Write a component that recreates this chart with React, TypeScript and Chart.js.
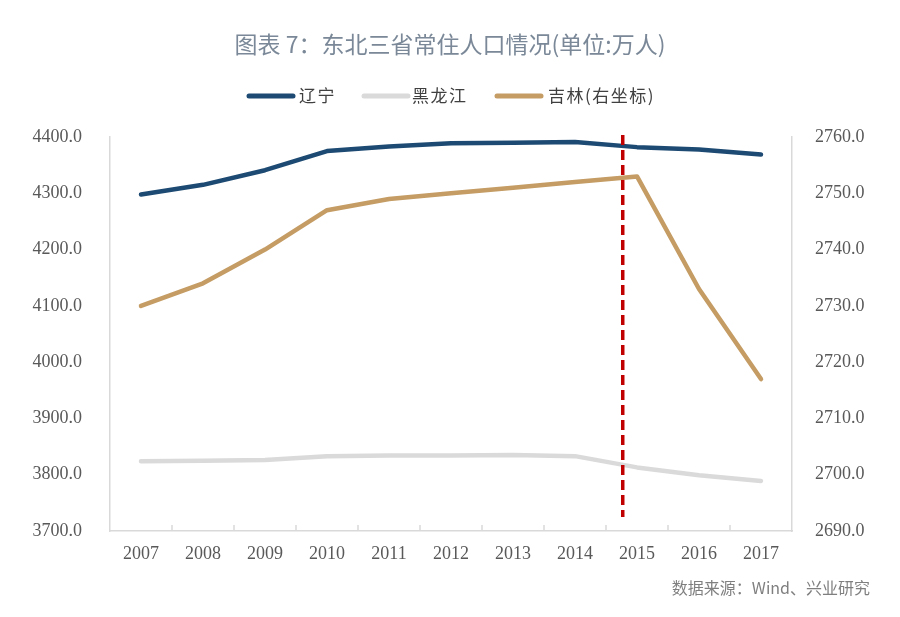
import React, { useEffect, useRef } from 'react';
import { Chart, registerables } from 'chart.js';

Chart.register(...registerables);

const years = ['2007', '2008', '2009', '2010', '2011', '2012', '2013', '2014', '2015', '2016', '2017'];
const liaoning = [4298, 4315, 4341, 4375, 4383, 4389, 4390, 4391, 4382, 4378, 4369];
const heilongjiang = [3824, 3825, 3826, 3833, 3834, 3834, 3835, 3833, 3813, 3799, 3789];
const jilin = [2730, 2734, 2740, 2747, 2749, 2750, 2751, 2752, 2753, 2733, 2717];
const seriesNames = ['辽宁', '黑龙江', '吉林(右坐标)'];
const seriesColors = ['#1d4a72', '#dadada', '#c49c64'];
const titleText = '图表 7：东北三省常住人口情况(单位:万人)';
const sourceText = '数据来源：Wind、兴业研究';
const markerIndex = 7.77; // dashed marker between 2014 and 2015
const markerBottomValue = 3725;

const CJK = '"Noto Sans CJK SC", "Noto Sans", sans-serif';
const SERIF = '"Liberation Serif", "Times New Roman", serif';

const decorPlugin = {
  id: 'decor',
  beforeDraw(chart: any) {
    const ctx = chart.ctx;
    ctx.save();
    ctx.fillStyle = '#ffffff';
    ctx.fillRect(0, 0, chart.width, chart.height);
    // title
    ctx.font = `23px ${CJK}`;
    ctx.fillStyle = '#7a8898';
    ctx.textAlign = 'center';
    ctx.textBaseline = 'middle';
    ctx.fillText(titleText, 450, 44);
    // legend
    const sampleX = [247, 362, 495];
    const textX = [299, 412, 548];
    ctx.lineCap = 'round';
    ctx.lineWidth = 5;
    ctx.font = `17px ${CJK}`;
    ctx.textAlign = 'left';
    try { (ctx as any).letterSpacing = '1.5px'; } catch (e) {}
    for (let i = 0; i < 3; i++) {
      ctx.strokeStyle = seriesColors[i];
      ctx.beginPath();
      ctx.moveTo(sampleX[i] + 2, 96);
      ctx.lineTo(sampleX[i] + 46, 96);
      ctx.stroke();
      ctx.fillStyle = '#404040';
      ctx.fillText(seriesNames[i], textX[i], 96);
    }
    try { (ctx as any).letterSpacing = '0px'; } catch (e) {}
    // source
    ctx.font = `16px ${CJK}`;
    ctx.fillStyle = '#7f7f7f';
    ctx.textAlign = 'right';
    ctx.fillText(sourceText, 870, 588);
    ctx.restore();
  },
  afterDraw(chart: any) {
    const ctx = chart.ctx;
    const x = chart.scales.x;
    const area = chart.chartArea;
    ctx.save();
    // inward tick marks at category boundaries
    ctx.strokeStyle = '#d9d9d9';
    ctx.lineWidth = 1.5;
    for (let i = 1; i < years.length; i++) {
      const bx = (x.getPixelForValue(i - 1) + x.getPixelForValue(i)) / 2;
      ctx.beginPath();
      ctx.moveTo(bx, area.bottom - 6);
      ctx.lineTo(bx, area.bottom);
      ctx.stroke();
    }
    ctx.restore();
  },
  afterDatasetsDraw(chart: any) {
    const ctx = chart.ctx;
    const x = chart.scales.x;
    const y = chart.scales.y;
    const area = chart.chartArea;
    const i0 = Math.floor(markerIndex);
    const f = markerIndex - i0;
    const mx = x.getPixelForValue(i0) + f * (x.getPixelForValue(i0 + 1) - x.getPixelForValue(i0));
    ctx.save();
    ctx.strokeStyle = '#c00000';
    ctx.lineWidth = 3.5;
    ctx.setLineDash([10, 5]);
    ctx.beginPath();
    ctx.moveTo(mx, area.top - 2);
    ctx.lineTo(mx, y.getPixelForValue(markerBottomValue));
    ctx.stroke();
    ctx.restore();
  },
};

export default function App() {
  const canvasRef = useRef<HTMLCanvasElement | null>(null);

  useEffect(() => {
    if (!canvasRef.current) return;
    const lineDs = (label: string, data: number[], color: string, axis: string, order: number) => ({
      label,
      data,
      yAxisID: axis,
      borderColor: color,
      backgroundColor: color,
      borderWidth: 4.5,
      pointRadius: 0,
      pointHoverRadius: 0,
      tension: 0,
      borderCapStyle: 'round' as const,
      borderJoinStyle: 'round' as const,
      fill: false,
      order,
    });
    const chart = new Chart(canvasRef.current, {
      type: 'line',
      data: {
        labels: years,
        datasets: [
          lineDs(seriesNames[0], liaoning, seriesColors[0], 'y', 1),
          lineDs(seriesNames[1], heilongjiang, seriesColors[1], 'y', 3),
          lineDs(seriesNames[2], jilin, seriesColors[2], 'y1', 2),
        ],
      },
      options: {
        responsive: false,
        animation: false,
        devicePixelRatio: 1,
        layout: { padding: { top: 137, bottom: 46, left: 0, right: 0 } },
        plugins: {
          legend: { display: false },
          title: { display: false },
          tooltip: { enabled: false },
        },
        scales: {
          x: {
            type: 'category',
            offset: true,
            grid: { display: false },
            border: { display: true, color: '#d9d9d9', width: 1.5 },
            ticks: { color: '#595959', font: { family: SERIF, size: 18 }, padding: 4, maxRotation: 0 },
            afterFit: (s: any) => { s.height = 40; },
          },
          y: {
            position: 'left',
            min: 3700,
            max: 4400,
            grid: { display: false },
            border: { display: true, color: '#d9d9d9', width: 1.5 },
            ticks: {
              stepSize: 100,
              color: '#595959',
              font: { family: SERIF, size: 18 },
              padding: 20,
              callback: (v: any) => Number(v).toFixed(1),
            },
            afterFit: (s: any) => { s.width = 110; },
          },
          y1: {
            position: 'right',
            min: 2690,
            max: 2760,
            grid: { display: false },
            border: { display: true, color: '#d9d9d9', width: 1.5 },
            ticks: {
              stepSize: 10,
              color: '#595959',
              font: { family: SERIF, size: 18 },
              padding: 15,
              callback: (v: any) => Number(v).toFixed(1),
            },
            afterFit: (s: any) => { s.width = 108; },
          },
        },
      },
      plugins: [decorPlugin],
    });
    return () => chart.destroy();
  }, []);

  return (
    <div style={{ position: 'fixed', left: 0, top: 0, width: 900, height: 617, background: '#fff' }}>
      <canvas ref={canvasRef} width={900} height={617} style={{ width: 900, height: 617, display: 'block' }} />
    </div>
  );
}
